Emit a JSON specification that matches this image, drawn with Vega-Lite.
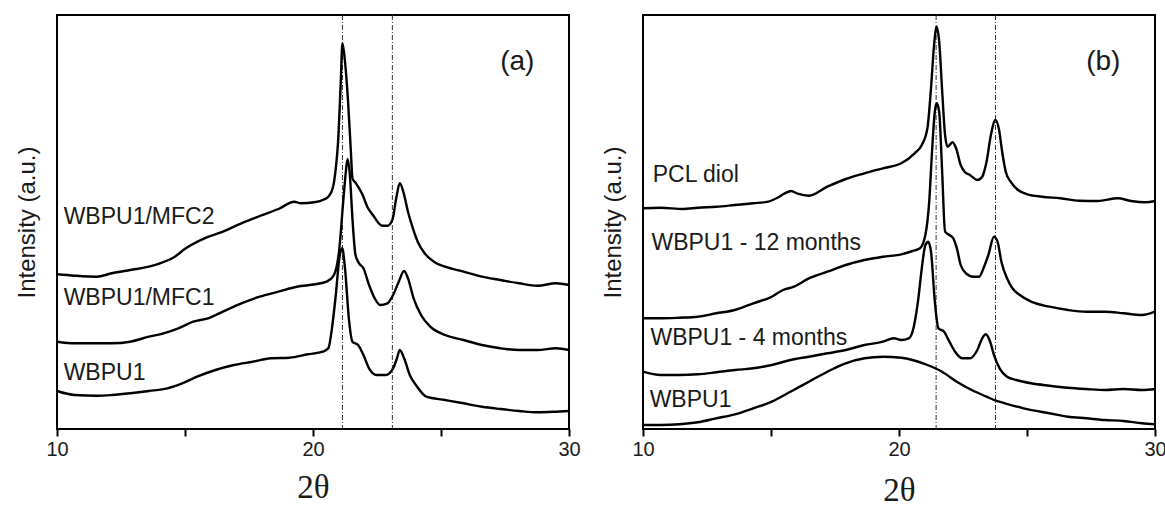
{
  "$schema": "https://vega.github.io/schema/vega-lite/v6.json",
  "padding": {"left": 14, "top": 13, "right": 0, "bottom": 0},
  "bounds": "flush",
  "spacing": 74,
  "config": {
    "font": "Liberation Sans",
    "view": {"stroke": "#000", "strokeWidth": 2}
  },
  "datasets": {
    "curvesA": [
      {"s":"WBPU1/MFC2","x":10.00,"y":154.7},{"s":"WBPU1/MFC2","x":10.69,"y":153.3},{"s":"WBPU1/MFC2","x":11.56,"y":152.3},{"s":"WBPU1/MFC2","x":12.14,"y":155.7},{"s":"WBPU1/MFC2","x":12.86,"y":159},{"s":"WBPU1/MFC2","x":13.59,"y":162.3},{"s":"WBPU1/MFC2","x":14.02,"y":165.7},{"s":"WBPU1/MFC2","x":14.60,"y":172.3},{"s":"WBPU1/MFC2","x":15.03,"y":180.7},{"s":"WBPU1/MFC2","x":15.76,"y":190.7},{"s":"WBPU1/MFC2","x":16.48,"y":197.3},{"s":"WBPU1/MFC2","x":17.20,"y":205.7},{"s":"WBPU1/MFC2","x":17.92,"y":213},{"s":"WBPU1/MFC2","x":18.65,"y":220},{"s":"WBPU1/MFC2","x":19.27,"y":227.3},{"s":"WBPU1/MFC2","x":19.52,"y":225.7},{"s":"WBPU1/MFC2","x":20.05,"y":226.7},{"s":"WBPU1/MFC2","x":20.38,"y":229},{"s":"WBPU1/MFC2","x":20.60,"y":232.3},{"s":"WBPU1/MFC2","x":20.77,"y":240.7},{"s":"WBPU1/MFC2","x":20.89,"y":260.7},{"s":"WBPU1/MFC2","x":20.98,"y":287.3},{"s":"WBPU1/MFC2","x":21.08,"y":344},{"s":"WBPU1/MFC2","x":21.15,"y":385.7},{"s":"WBPU1/MFC2","x":21.25,"y":367.3},{"s":"WBPU1/MFC2","x":21.37,"y":327.3},{"s":"WBPU1/MFC2","x":21.48,"y":277.3},{"s":"WBPU1/MFC2","x":21.54,"y":250.7},{"s":"WBPU1/MFC2","x":21.68,"y":245.7},{"s":"WBPU1/MFC2","x":21.94,"y":234},{"s":"WBPU1/MFC2","x":22.12,"y":222.3},{"s":"WBPU1/MFC2","x":22.34,"y":214},{"s":"WBPU1/MFC2","x":22.70,"y":203.3},{"s":"WBPU1/MFC2","x":22.91,"y":203.3},{"s":"WBPU1/MFC2","x":23.10,"y":209},{"s":"WBPU1/MFC2","x":23.25,"y":230.7},{"s":"WBPU1/MFC2","x":23.39,"y":245.7},{"s":"WBPU1/MFC2","x":23.56,"y":234},{"s":"WBPU1/MFC2","x":23.71,"y":217.3},{"s":"WBPU1/MFC2","x":23.82,"y":207.3},{"s":"WBPU1/MFC2","x":24.09,"y":187.3},{"s":"WBPU1/MFC2","x":24.36,"y":175.7},{"s":"WBPU1/MFC2","x":24.72,"y":167.3},{"s":"WBPU1/MFC2","x":25.16,"y":162.3},{"s":"WBPU1/MFC2","x":25.88,"y":157.3},{"s":"WBPU1/MFC2","x":26.60,"y":152.3},{"s":"WBPU1/MFC2","x":27.32,"y":149},{"s":"WBPU1/MFC2","x":28.05,"y":145.7},{"s":"WBPU1/MFC2","x":28.77,"y":143.3},{"s":"WBPU1/MFC2","x":29.49,"y":145.7},{"s":"WBPU1/MFC2","x":30.00,"y":144},
      {"s":"WBPU1/MFC1","x":10.00,"y":87.3},{"s":"WBPU1/MFC1","x":10.69,"y":85.7},{"s":"WBPU1/MFC1","x":11.56,"y":85.7},{"s":"WBPU1/MFC1","x":12.14,"y":85.7},{"s":"WBPU1/MFC1","x":12.86,"y":87.3},{"s":"WBPU1/MFC1","x":13.59,"y":92.3},{"s":"WBPU1/MFC1","x":14.16,"y":95.7},{"s":"WBPU1/MFC1","x":14.74,"y":100.7},{"s":"WBPU1/MFC1","x":15.32,"y":107.3},{"s":"WBPU1/MFC1","x":15.90,"y":110.7},{"s":"WBPU1/MFC1","x":16.48,"y":117.3},{"s":"WBPU1/MFC1","x":17.20,"y":125.7},{"s":"WBPU1/MFC1","x":17.92,"y":132.3},{"s":"WBPU1/MFC1","x":18.65,"y":137.3},{"s":"WBPU1/MFC1","x":19.37,"y":142.3},{"s":"WBPU1/MFC1","x":20.09,"y":144.7},{"s":"WBPU1/MFC1","x":20.53,"y":147.3},{"s":"WBPU1/MFC1","x":20.82,"y":154},{"s":"WBPU1/MFC1","x":21.03,"y":180.7},{"s":"WBPU1/MFC1","x":21.18,"y":227.3},{"s":"WBPU1/MFC1","x":21.27,"y":254},{"s":"WBPU1/MFC1","x":21.35,"y":270},{"s":"WBPU1/MFC1","x":21.44,"y":254},{"s":"WBPU1/MFC1","x":21.54,"y":210.7},{"s":"WBPU1/MFC1","x":21.66,"y":174},{"s":"WBPU1/MFC1","x":21.80,"y":165.7},{"s":"WBPU1/MFC1","x":21.97,"y":160.7},{"s":"WBPU1/MFC1","x":22.19,"y":144},{"s":"WBPU1/MFC1","x":22.41,"y":130.7},{"s":"WBPU1/MFC1","x":22.62,"y":124},{"s":"WBPU1/MFC1","x":22.91,"y":125.7},{"s":"WBPU1/MFC1","x":23.13,"y":134},{"s":"WBPU1/MFC1","x":23.35,"y":147.3},{"s":"WBPU1/MFC1","x":23.56,"y":158},{"s":"WBPU1/MFC1","x":23.71,"y":150.7},{"s":"WBPU1/MFC1","x":23.93,"y":130.7},{"s":"WBPU1/MFC1","x":24.22,"y":114},{"s":"WBPU1/MFC1","x":24.58,"y":102.3},{"s":"WBPU1/MFC1","x":25.16,"y":94},{"s":"WBPU1/MFC1","x":25.88,"y":89},{"s":"WBPU1/MFC1","x":26.60,"y":84},{"s":"WBPU1/MFC1","x":27.32,"y":80.7},{"s":"WBPU1/MFC1","x":28.05,"y":79},{"s":"WBPU1/MFC1","x":28.77,"y":79},{"s":"WBPU1/MFC1","x":29.49,"y":80.7},{"s":"WBPU1/MFC1","x":30.00,"y":79},
      {"s":"WBPU1","x":10.00,"y":38},{"s":"WBPU1","x":10.69,"y":34},{"s":"WBPU1","x":11.56,"y":33.3},{"s":"WBPU1","x":12.14,"y":34},{"s":"WBPU1","x":12.86,"y":35.7},{"s":"WBPU1","x":13.59,"y":38},{"s":"WBPU1","x":14.31,"y":40.7},{"s":"WBPU1","x":14.89,"y":45.7},{"s":"WBPU1","x":15.47,"y":52.3},{"s":"WBPU1","x":16.19,"y":59},{"s":"WBPU1","x":16.91,"y":64},{"s":"WBPU1","x":17.64,"y":67.3},{"s":"WBPU1","x":18.36,"y":70.7},{"s":"WBPU1","x":19.08,"y":71.3},{"s":"WBPU1","x":19.80,"y":74.7},{"s":"WBPU1","x":20.38,"y":77.3},{"s":"WBPU1","x":20.60,"y":80.7},{"s":"WBPU1","x":20.74,"y":100.7},{"s":"WBPU1","x":20.89,"y":134},{"s":"WBPU1","x":21.03,"y":170.7},{"s":"WBPU1","x":21.14,"y":180.7},{"s":"WBPU1","x":21.25,"y":160.7},{"s":"WBPU1","x":21.40,"y":110.7},{"s":"WBPU1","x":21.54,"y":87.3},{"s":"WBPU1","x":21.76,"y":84},{"s":"WBPU1","x":21.97,"y":74},{"s":"WBPU1","x":22.19,"y":60.7},{"s":"WBPU1","x":22.48,"y":54},{"s":"WBPU1","x":22.84,"y":54},{"s":"WBPU1","x":23.13,"y":60.7},{"s":"WBPU1","x":23.28,"y":70.7},{"s":"WBPU1","x":23.39,"y":79},{"s":"WBPU1","x":23.56,"y":70.7},{"s":"WBPU1","x":23.78,"y":54},{"s":"WBPU1","x":24.07,"y":42.3},{"s":"WBPU1","x":24.43,"y":32.3},{"s":"WBPU1","x":25.16,"y":29},{"s":"WBPU1","x":25.88,"y":25.7},{"s":"WBPU1","x":26.60,"y":22.3},{"s":"WBPU1","x":27.32,"y":20},{"s":"WBPU1","x":28.05,"y":18},{"s":"WBPU1","x":28.77,"y":16.7},{"s":"WBPU1","x":29.49,"y":17.3},{"s":"WBPU1","x":30.00,"y":18}
    ],
    "curvesB": [
      {"s":"PCL diol","x":10.00,"y":220.7},{"s":"PCL diol","x":10.69,"y":221.3},{"s":"PCL diol","x":11.56,"y":220},{"s":"PCL diol","x":12.14,"y":221.3},{"s":"PCL diol","x":12.86,"y":222.3},{"s":"PCL diol","x":13.59,"y":224},{"s":"PCL diol","x":14.31,"y":225.7},{"s":"PCL diol","x":14.89,"y":227.3},{"s":"PCL diol","x":15.25,"y":231.3},{"s":"PCL diol","x":15.54,"y":235.7},{"s":"PCL diol","x":15.78,"y":238},{"s":"PCL diol","x":16.04,"y":235.3},{"s":"PCL diol","x":16.48,"y":233.3},{"s":"PCL diol","x":17.20,"y":242.3},{"s":"PCL diol","x":17.92,"y":250},{"s":"PCL diol","x":18.65,"y":255.7},{"s":"PCL diol","x":19.37,"y":260.7},{"s":"PCL diol","x":20.09,"y":265.7},{"s":"PCL diol","x":20.61,"y":275.7},{"s":"PCL diol","x":20.89,"y":284},{"s":"PCL diol","x":21.11,"y":300.7},{"s":"PCL diol","x":21.25,"y":340.7},{"s":"PCL diol","x":21.37,"y":384},{"s":"PCL diol","x":21.47,"y":402.3},{"s":"PCL diol","x":21.57,"y":387.3},{"s":"PCL diol","x":21.68,"y":340.7},{"s":"PCL diol","x":21.80,"y":294},{"s":"PCL diol","x":21.90,"y":282.3},{"s":"PCL diol","x":22.09,"y":286.7},{"s":"PCL diol","x":22.23,"y":280.7},{"s":"PCL diol","x":22.41,"y":264},{"s":"PCL diol","x":22.58,"y":256.7},{"s":"PCL diol","x":22.77,"y":254},{"s":"PCL diol","x":23.06,"y":249},{"s":"PCL diol","x":23.25,"y":252.3},{"s":"PCL diol","x":23.42,"y":267.3},{"s":"PCL diol","x":23.59,"y":294},{"s":"PCL diol","x":23.77,"y":309},{"s":"PCL diol","x":23.91,"y":299},{"s":"PCL diol","x":24.03,"y":277.3},{"s":"PCL diol","x":24.17,"y":257.3},{"s":"PCL diol","x":24.36,"y":247.3},{"s":"PCL diol","x":24.65,"y":239},{"s":"PCL diol","x":25.01,"y":234.7},{"s":"PCL diol","x":25.59,"y":232.3},{"s":"PCL diol","x":26.31,"y":230.7},{"s":"PCL diol","x":27.04,"y":228.3},{"s":"PCL diol","x":27.76,"y":228},{"s":"PCL diol","x":28.55,"y":230.7},{"s":"PCL diol","x":29.06,"y":228},{"s":"PCL diol","x":29.64,"y":226.7},{"s":"PCL diol","x":30.00,"y":228},
      {"s":"WBPU1 - 12 months","x":10.00,"y":110.7},{"s":"WBPU1 - 12 months","x":10.69,"y":110.7},{"s":"WBPU1 - 12 months","x":11.42,"y":111.3},{"s":"WBPU1 - 12 months","x":12.14,"y":112.3},{"s":"WBPU1 - 12 months","x":12.86,"y":115.7},{"s":"WBPU1 - 12 months","x":13.59,"y":119},{"s":"WBPU1 - 12 months","x":14.31,"y":125.7},{"s":"WBPU1 - 12 months","x":15.03,"y":132.3},{"s":"WBPU1 - 12 months","x":15.47,"y":139},{"s":"WBPU1 - 12 months","x":15.90,"y":142.3},{"s":"WBPU1 - 12 months","x":16.48,"y":150.7},{"s":"WBPU1 - 12 months","x":17.20,"y":157.3},{"s":"WBPU1 - 12 months","x":17.92,"y":164},{"s":"WBPU1 - 12 months","x":18.65,"y":169},{"s":"WBPU1 - 12 months","x":19.37,"y":172.3},{"s":"WBPU1 - 12 months","x":20.09,"y":174.7},{"s":"WBPU1 - 12 months","x":20.53,"y":178},{"s":"WBPU1 - 12 months","x":20.82,"y":180.7},{"s":"WBPU1 - 12 months","x":21.03,"y":194},{"s":"WBPU1 - 12 months","x":21.18,"y":227.3},{"s":"WBPU1 - 12 months","x":21.29,"y":277.3},{"s":"WBPU1 - 12 months","x":21.40,"y":317.3},{"s":"WBPU1 - 12 months","x":21.47,"y":325.7},{"s":"WBPU1 - 12 months","x":21.57,"y":317.3},{"s":"WBPU1 - 12 months","x":21.68,"y":260.7},{"s":"WBPU1 - 12 months","x":21.80,"y":197.3},{"s":"WBPU1 - 12 months","x":21.97,"y":194},{"s":"WBPU1 - 12 months","x":22.12,"y":190.7},{"s":"WBPU1 - 12 months","x":22.26,"y":180.7},{"s":"WBPU1 - 12 months","x":22.41,"y":164},{"s":"WBPU1 - 12 months","x":22.62,"y":155.7},{"s":"WBPU1 - 12 months","x":22.91,"y":152.3},{"s":"WBPU1 - 12 months","x":23.13,"y":152.3},{"s":"WBPU1 - 12 months","x":23.30,"y":160.7},{"s":"WBPU1 - 12 months","x":23.49,"y":174},{"s":"WBPU1 - 12 months","x":23.71,"y":192.3},{"s":"WBPU1 - 12 months","x":23.85,"y":187.3},{"s":"WBPU1 - 12 months","x":24.00,"y":167.3},{"s":"WBPU1 - 12 months","x":24.22,"y":150.7},{"s":"WBPU1 - 12 months","x":24.43,"y":140.7},{"s":"WBPU1 - 12 months","x":24.72,"y":134},{"s":"WBPU1 - 12 months","x":25.16,"y":127.3},{"s":"WBPU1 - 12 months","x":25.88,"y":122.3},{"s":"WBPU1 - 12 months","x":26.60,"y":119},{"s":"WBPU1 - 12 months","x":27.32,"y":117.3},{"s":"WBPU1 - 12 months","x":28.05,"y":117.3},{"s":"WBPU1 - 12 months","x":28.77,"y":115.7},{"s":"WBPU1 - 12 months","x":29.49,"y":114},{"s":"WBPU1 - 12 months","x":30.00,"y":117.3},
      {"s":"WBPU1 - 4 months","x":10.00,"y":57.3},{"s":"WBPU1 - 4 months","x":10.69,"y":54},{"s":"WBPU1 - 4 months","x":11.42,"y":54},{"s":"WBPU1 - 4 months","x":12.14,"y":54.7},{"s":"WBPU1 - 4 months","x":12.86,"y":56.7},{"s":"WBPU1 - 4 months","x":13.59,"y":59},{"s":"WBPU1 - 4 months","x":14.31,"y":60.7},{"s":"WBPU1 - 4 months","x":15.03,"y":64},{"s":"WBPU1 - 4 months","x":15.76,"y":69},{"s":"WBPU1 - 4 months","x":16.48,"y":72.3},{"s":"WBPU1 - 4 months","x":17.20,"y":75.7},{"s":"WBPU1 - 4 months","x":17.92,"y":79},{"s":"WBPU1 - 4 months","x":18.65,"y":84},{"s":"WBPU1 - 4 months","x":19.37,"y":87.3},{"s":"WBPU1 - 4 months","x":19.80,"y":90.7},{"s":"WBPU1 - 4 months","x":20.09,"y":89},{"s":"WBPU1 - 4 months","x":20.38,"y":90.7},{"s":"WBPU1 - 4 months","x":20.53,"y":97.3},{"s":"WBPU1 - 4 months","x":20.74,"y":127.3},{"s":"WBPU1 - 4 months","x":20.89,"y":160.7},{"s":"WBPU1 - 4 months","x":21.03,"y":184},{"s":"WBPU1 - 4 months","x":21.14,"y":187.3},{"s":"WBPU1 - 4 months","x":21.25,"y":177.3},{"s":"WBPU1 - 4 months","x":21.40,"y":127.3},{"s":"WBPU1 - 4 months","x":21.54,"y":100.7},{"s":"WBPU1 - 4 months","x":21.76,"y":97.3},{"s":"WBPU1 - 4 months","x":21.97,"y":87.3},{"s":"WBPU1 - 4 months","x":22.19,"y":77.3},{"s":"WBPU1 - 4 months","x":22.48,"y":70.7},{"s":"WBPU1 - 4 months","x":22.77,"y":70.7},{"s":"WBPU1 - 4 months","x":23.06,"y":79},{"s":"WBPU1 - 4 months","x":23.25,"y":90.7},{"s":"WBPU1 - 4 months","x":23.39,"y":94.7},{"s":"WBPU1 - 4 months","x":23.56,"y":87.3},{"s":"WBPU1 - 4 months","x":23.71,"y":74},{"s":"WBPU1 - 4 months","x":23.93,"y":60.7},{"s":"WBPU1 - 4 months","x":24.22,"y":52.3},{"s":"WBPU1 - 4 months","x":24.58,"y":49},{"s":"WBPU1 - 4 months","x":25.16,"y":45.7},{"s":"WBPU1 - 4 months","x":25.88,"y":43.3},{"s":"WBPU1 - 4 months","x":26.60,"y":41.3},{"s":"WBPU1 - 4 months","x":27.32,"y":40},{"s":"WBPU1 - 4 months","x":28.05,"y":39},{"s":"WBPU1 - 4 months","x":28.77,"y":40},{"s":"WBPU1 - 4 months","x":29.49,"y":39},{"s":"WBPU1 - 4 months","x":30.00,"y":40},
      {"s":"WBPU1","x":10.00,"y":4},{"s":"WBPU1","x":10.69,"y":4},{"s":"WBPU1","x":11.42,"y":4.7},{"s":"WBPU1","x":12.14,"y":6.7},{"s":"WBPU1","x":12.86,"y":10.7},{"s":"WBPU1","x":13.59,"y":14.7},{"s":"WBPU1","x":14.31,"y":20.7},{"s":"WBPU1","x":15.03,"y":27.3},{"s":"WBPU1","x":15.76,"y":37.3},{"s":"WBPU1","x":16.48,"y":47.3},{"s":"WBPU1","x":17.20,"y":57.3},{"s":"WBPU1","x":17.92,"y":65.7},{"s":"WBPU1","x":18.65,"y":70.7},{"s":"WBPU1","x":19.37,"y":72.3},{"s":"WBPU1","x":20.09,"y":71.3},{"s":"WBPU1","x":20.53,"y":69},{"s":"WBPU1","x":21.11,"y":64},{"s":"WBPU1","x":21.68,"y":57.3},{"s":"WBPU1","x":22.26,"y":47.3},{"s":"WBPU1","x":22.84,"y":39},{"s":"WBPU1","x":23.42,"y":32.3},{"s":"WBPU1","x":23.71,"y":29},{"s":"WBPU1","x":24.14,"y":25.7},{"s":"WBPU1","x":24.87,"y":20.7},{"s":"WBPU1","x":25.88,"y":15.7},{"s":"WBPU1","x":26.60,"y":12.3},{"s":"WBPU1","x":27.32,"y":10.7},{"s":"WBPU1","x":28.05,"y":9},{"s":"WBPU1","x":28.77,"y":8},{"s":"WBPU1","x":29.49,"y":5.7},{"s":"WBPU1","x":30.00,"y":4.7}
    ],
    "refA": [{"x": 21.15}, {"x": 23.1}],
    "refB": [{"x": 21.45}, {"x": 23.77}],
    "namesA": [
      {"t": "WBPU1/MFC2", "x": 10.26, "y": 212},
      {"t": "WBPU1/MFC1", "x": 10.26, "y": 130.7},
      {"t": "WBPU1", "x": 10.26, "y": 55.7}
    ],
    "namesB": [
      {"t": "PCL diol", "x": 10.38, "y": 254},
      {"t": "WBPU1 - 12 months", "x": 10.33, "y": 185.7},
      {"t": "WBPU1 - 4 months", "x": 10.29, "y": 90.7},
      {"t": "WBPU1", "x": 10.26, "y": 29}
    ],
    "tagA": [{"t": "(a)", "x": 27.98, "y": 367}],
    "tagB": [{"t": "(b)", "x": 27.98, "y": 367}]
  },
  "hconcat": [
    {
      "width": 512,
      "height": 414,
      "encoding": {
        "x": {
          "field": "x", "type": "quantitative",
          "scale": {"domain": [10, 30], "nice": false, "zero": false},
          "axis": {
            "title": "2θ", "values": [10, 15, 20, 25, 30],
            "labelExpr": "datum.value % 10 === 0 ? datum.label : ''",
            "tickSize": 7, "ticks": true,
            "tickWidth": 2, "tickColor": "#000", "domain": false, "grid": false,
            "labelFont": "Liberation Sans", "labelFontSize": 20, "labelColor": "#1a1a1a", "labelPadding": 3,
            "labelFlush": false, "labelOverlap": false, "labelBound": false,
            "titleFont": "Liberation Serif", "titleFontSize": 33, "titleFontWeight": "normal", "titleColor": "#1a1a1a",
            "titlePadding": 12
          }
        },
        "y": {
          "field": "y", "type": "quantitative",
          "scale": {"domain": [0, 414], "nice": false, "zero": false},
          "axis": {
            "title": "Intensity (a.u.)", "ticks": false, "labels": false, "domain": false, "grid": false,
            "titleFont": "Liberation Sans", "titleFontSize": 24, "titleFontWeight": "normal", "titleColor": "#1a1a1a", "titlePadding": 18
          }
        }
      },
      "layer": [
        {
          "data": {"name": "refA"},
          "mark": {"type": "rule", "color": "#333", "strokeWidth": 1, "strokeDash": [5, 2, 1, 2]},
          "encoding": {"y": null}
        },
        {
          "data": {"name": "curvesA"},
          "mark": {"type": "line", "color": "#000", "strokeWidth": 2.4, "strokeJoin": "round", "interpolate": "monotone"},
          "encoding": {"detail": {"field": "s"}}
        },
        {
          "data": {"name": "namesA"},
          "mark": {"type": "text", "align": "left", "baseline": "middle", "fontSize": 23, "color": "#1a1a1a"},
          "encoding": {"text": {"field": "t"}}
        },
        {
          "data": {"name": "tagA"},
          "mark": {"type": "text", "align": "center", "baseline": "middle", "fontSize": 28, "color": "#1a1a1a"},
          "encoding": {"text": {"field": "t"}}
        }
      ]
    },
    {
      "width": 512,
      "height": 414,
      "encoding": {
        "x": {
          "field": "x", "type": "quantitative",
          "scale": {"domain": [10, 30], "nice": false, "zero": false},
          "axis": {
            "title": "2θ", "values": [10, 15, 20, 25, 30],
            "labelExpr": "datum.value % 10 === 0 ? datum.label : ''",
            "tickSize": 7, "ticks": true,
            "tickWidth": 2, "tickColor": "#000", "domain": false, "grid": false,
            "labelFont": "Liberation Sans", "labelFontSize": 20, "labelColor": "#1a1a1a", "labelPadding": 3,
            "labelFlush": false, "labelOverlap": false, "labelBound": false,
            "titleFont": "Liberation Serif", "titleFontSize": 33, "titleFontWeight": "normal", "titleColor": "#1a1a1a",
            "titlePadding": 15
          }
        },
        "y": {
          "field": "y", "type": "quantitative",
          "scale": {"domain": [0, 414], "nice": false, "zero": false},
          "axis": {
            "title": "Intensity (a.u.)", "ticks": false, "labels": false, "domain": false, "grid": false,
            "titleFont": "Liberation Sans", "titleFontSize": 24, "titleFontWeight": "normal", "titleColor": "#1a1a1a", "titlePadding": 18
          }
        }
      },
      "layer": [
        {
          "data": {"name": "refB"},
          "mark": {"type": "rule", "color": "#333", "strokeWidth": 1, "strokeDash": [5, 2, 1, 2]},
          "encoding": {"y": null}
        },
        {
          "data": {"name": "curvesB"},
          "mark": {"type": "line", "color": "#000", "strokeWidth": 2.4, "strokeJoin": "round", "interpolate": "monotone"},
          "encoding": {"detail": {"field": "s"}}
        },
        {
          "data": {"name": "namesB"},
          "mark": {"type": "text", "align": "left", "baseline": "middle", "fontSize": 23, "color": "#1a1a1a"},
          "encoding": {"text": {"field": "t"}}
        },
        {
          "data": {"name": "tagB"},
          "mark": {"type": "text", "align": "center", "baseline": "middle", "fontSize": 28, "color": "#1a1a1a"},
          "encoding": {"text": {"field": "t"}}
        }
      ]
    }
  ]
}
